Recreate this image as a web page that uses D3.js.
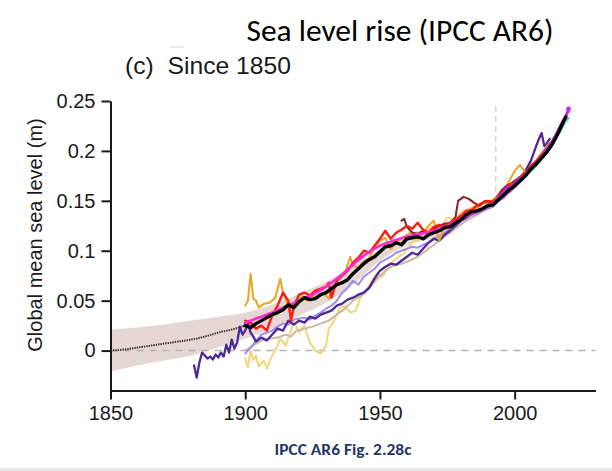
<!DOCTYPE html>
<html><head><meta charset="utf-8">
<script src="https://cdn.jsdelivr.net/npm/d3@7"></script>
<style>
html,body{margin:0;padding:0;background:#fff;}
svg{display:block;}
</style></head>
<body><svg id="chart" width="612" height="471"></svg>
<script>
// ---------- DATA ----------
const xTicks = [1850, 1900, 1950, 2000];
const yTicks = [0, 0.05, 0.1, 0.15, 0.2, 0.25];

const bandYears = [1850, 1860, 1870, 1880, 1890, 1900, 1910, 1920, 1930, 1940, 1950, 1960, 1970, 1980, 1990, 1993];
const bandLow   = [-0.021, -0.015, -0.010, -0.005, 0.003, 0.012, 0.022, 0.035, 0.048, 0.066, 0.090, 0.105, 0.113, 0.126, 0.141, 0.147];
const bandHigh  = [0.021, 0.023, 0.026, 0.030, 0.034, 0.038, 0.046, 0.057, 0.069, 0.084, 0.102, 0.117, 0.123, 0.134, 0.147, 0.151];

const reconYears = [1850, 1855, 1860, 1865, 1870, 1875, 1880, 1885, 1890, 1895, 1900];
const reconVals  = [0.000, 0.001, 0.003, 0.005, 0.007, 0.009, 0.011, 0.014, 0.018, 0.021, 0.025];

const paleYellow = [[1900,-0.008],[1901,-0.017],[1902,0.000],[1903,-0.010],[1904,-0.005],[1905,-0.016],[1907,-0.010],[1908,-0.018],[1910,-0.005],[1912,0.005],[1913,0.012],[1915,0.005],[1917,0.020],[1918,0.030],[1920,0.018],[1922,0.025],[1924,0.008],[1926,0.000],[1928,-0.003],[1930,0.005],[1931,0.022],[1933,0.030],[1935,0.042],[1937,0.045],[1939,0.038],[1941,0.040],[1943,0.055],[1945,0.060],[1947,0.070],[1949,0.078],[1951,0.074],[1953,0.084],[1955,0.090],[1957,0.094],[1959,0.098],[1961,0.105],[1963,0.110],[1965,0.112],[1967,0.118],[1969,0.124],[1971,0.120],[1973,0.125],[1975,0.133],[1977,0.132],[1979,0.136],[1981,0.140],[1983,0.142],[1985,0.145],[1987,0.146],[1989,0.148],[1991,0.150],[1994,0.156],[1997,0.162],[2000,0.170],[2003,0.176],[2006,0.184],[2009,0.192]];

const tan = [[1900,0.000],[1903,0.005],[1906,0.010],[1909,0.012],[1912,0.013],[1915,0.016],[1917,0.014],[1919,0.020],[1922,0.022],[1925,0.024],[1928,0.027],[1931,0.030],[1934,0.036],[1937,0.042],[1940,0.050],[1943,0.055],[1946,0.062],[1949,0.072],[1952,0.080],[1955,0.085],[1958,0.087],[1961,0.090],[1964,0.094],[1967,0.100],[1970,0.106],[1973,0.112],[1976,0.118],[1979,0.124],[1982,0.130],[1985,0.135],[1988,0.140],[1991,0.145],[1994,0.150],[1997,0.158],[2000,0.165]];

const lavender = [[1900,-0.003],[1902,0.003],[1904,0.010],[1906,0.016],[1908,0.018],[1910,0.020],[1912,0.024],[1914,0.027],[1916,0.026],[1918,0.031],[1920,0.032],[1922,0.033],[1924,0.031],[1926,0.035],[1928,0.038],[1930,0.042],[1932,0.045],[1934,0.050],[1936,0.058],[1938,0.063],[1940,0.070],[1942,0.066],[1944,0.074],[1946,0.078],[1948,0.082],[1950,0.088],[1952,0.091],[1954,0.094],[1956,0.098],[1958,0.100],[1960,0.102],[1962,0.104],[1964,0.103],[1966,0.106],[1968,0.108],[1970,0.112],[1972,0.115],[1974,0.118],[1976,0.122],[1978,0.126],[1980,0.130],[1982,0.134],[1984,0.136],[1986,0.137],[1988,0.140],[1990,0.142],[1992,0.144],[1994,0.150],[1996,0.153],[1998,0.160],[2000,0.165],[2003,0.172],[2006,0.180],[2009,0.190]];

const darkPurple = [[1881,-0.015],[1882,-0.027],[1883,-0.012],[1884,-0.002],[1885,-0.005],[1886,-0.008],[1887,-0.006],[1888,-0.009],[1889,-0.004],[1890,-0.007],[1891,-0.002],[1892,-0.006],[1893,0.006],[1894,-0.002],[1895,0.011],[1896,0.002],[1897,0.008],[1898,0.024],[1899,0.016],[1900,0.020],[1901,0.028],[1902,0.018],[1903,0.014],[1904,0.009],[1906,0.013],[1908,0.010],[1910,0.016],[1912,0.022],[1914,0.020],[1916,0.030],[1918,0.026],[1920,0.030],[1922,0.028],[1924,0.034],[1926,0.032],[1928,0.036],[1930,0.038],[1932,0.040],[1934,0.045],[1936,0.047],[1938,0.051],[1940,0.053],[1942,0.056],[1944,0.058],[1946,0.063],[1948,0.072],[1950,0.080],[1952,0.084],[1954,0.087],[1956,0.086],[1958,0.090],[1960,0.094],[1962,0.098],[1964,0.096],[1966,0.102],[1968,0.108],[1970,0.112],[1972,0.110],[1974,0.116],[1976,0.120],[1978,0.125],[1980,0.130],[1982,0.133],[1984,0.137],[1986,0.140],[1988,0.142],[1990,0.146],[1992,0.148],[1994,0.153],[1996,0.158],[1998,0.163],[2000,0.168],[2002,0.173],[2004,0.180],[2006,0.190],[2008,0.205],[2009,0.212],[2010,0.218],[2011,0.205],[2012,0.208],[2013,0.212]];

const orange = [[1900,0.045],[1901,0.050],[1902,0.077],[1903,0.052],[1904,0.050],[1905,0.043],[1907,0.047],[1909,0.048],[1911,0.052],[1913,0.072],[1914,0.058],[1916,0.045],[1917,0.033],[1919,0.048],[1921,0.054],[1923,0.050],[1925,0.055],[1927,0.053],[1929,0.058],[1931,0.052],[1933,0.066],[1935,0.072],[1937,0.078],[1939,0.094],[1940,0.085],[1942,0.083],[1944,0.090],[1946,0.092],[1948,0.104],[1950,0.110],[1952,0.113],[1954,0.102],[1956,0.108],[1958,0.112],[1960,0.116],[1962,0.119],[1964,0.112],[1966,0.118],[1968,0.125],[1970,0.130],[1972,0.110],[1974,0.125],[1976,0.122],[1978,0.130],[1980,0.133],[1982,0.140],[1984,0.138],[1986,0.143],[1988,0.147],[1990,0.148],[1992,0.145],[1994,0.155],[1996,0.160],[1998,0.170],[2000,0.180],[2002,0.186],[2004,0.178],[2006,0.185],[2008,0.190],[2010,0.198],[2012,0.205],[2013,0.208]];

const maroon = [[1958,0.130],[1959,0.132],[1960,0.124],[1962,0.118],[1964,0.117],[1966,0.120],[1968,0.118],[1970,0.122],[1972,0.125],[1974,0.127],[1976,0.128],[1978,0.133],[1979,0.150],[1981,0.154],[1983,0.152],[1985,0.148],[1987,0.145],[1989,0.150],[1991,0.148],[1993,0.152],[1995,0.160],[1997,0.165],[1999,0.168],[2001,0.172]];

const red = [[1900,0.030],[1902,0.028],[1904,0.022],[1906,0.025],[1908,0.020],[1910,0.035],[1912,0.045],[1914,0.058],[1916,0.050],[1917,0.030],[1918,0.045],[1920,0.056],[1922,0.058],[1924,0.055],[1926,0.060],[1928,0.062],[1930,0.064],[1931,0.068],[1932,0.053],[1934,0.070],[1936,0.075],[1938,0.080],[1940,0.088],[1942,0.093],[1944,0.100],[1946,0.098],[1948,0.105],[1950,0.112],[1952,0.120],[1954,0.112],[1956,0.118],[1958,0.121],[1960,0.125],[1962,0.122],[1964,0.128],[1966,0.121],[1968,0.118],[1970,0.124],[1972,0.126],[1974,0.124],[1976,0.128],[1978,0.131],[1980,0.135],[1982,0.140],[1984,0.141],[1986,0.145],[1988,0.148],[1990,0.150],[1992,0.149],[1994,0.155],[1996,0.160],[1998,0.166],[2000,0.168],[2002,0.174],[2004,0.178],[2006,0.185],[2008,0.190],[2010,0.196],[2012,0.203],[2014,0.210],[2016,0.219],[2018,0.230]];

const magenta = [[1900,0.028],[1905,0.033],[1910,0.038],[1915,0.044],[1920,0.050],[1925,0.056],[1930,0.064],[1935,0.074],[1940,0.086],[1945,0.097],[1950,0.105],[1955,0.110],[1960,0.114],[1965,0.117],[1970,0.120],[1975,0.125],[1980,0.132],[1985,0.138],[1990,0.144],[1995,0.153],[2000,0.164],[2005,0.178],[2010,0.194],[2015,0.214],[2018,0.230],[2020,0.240]];

const cyanAlt = [[1993,0.150],[1995,0.153],[1997,0.160],[1999,0.161],[2001,0.168],[2003,0.171],[2005,0.178],[2007,0.182],[2009,0.188],[2011,0.195],[2013,0.202],[2015,0.212],[2017,0.220],[2019,0.230],[2020,0.233]];
const limeAlt = [[1993,0.152],[1996,0.157],[1999,0.163],[2002,0.170],[2005,0.177],[2008,0.186],[2011,0.196],[2014,0.208],[2017,0.222],[2019,0.231]];
const violetAlt = [[1993,0.151],[1995,0.156],[1997,0.163],[1999,0.165],[2001,0.171],[2003,0.174],[2005,0.180],[2007,0.185],[2009,0.191],[2011,0.199],[2013,0.206],[2015,0.215],[2017,0.226],[2019,0.236],[2020,0.242]];

const black = [[1900,0.025],[1902,0.023],[1904,0.027],[1906,0.030],[1908,0.033],[1910,0.036],[1912,0.038],[1914,0.041],[1916,0.046],[1918,0.043],[1920,0.049],[1922,0.053],[1924,0.051],[1926,0.052],[1928,0.056],[1930,0.058],[1932,0.062],[1934,0.066],[1936,0.068],[1938,0.071],[1940,0.077],[1942,0.082],[1944,0.087],[1946,0.091],[1948,0.094],[1950,0.099],[1952,0.104],[1954,0.105],[1956,0.108],[1958,0.106],[1960,0.112],[1962,0.113],[1964,0.114],[1966,0.112],[1968,0.116],[1970,0.118],[1972,0.120],[1974,0.123],[1976,0.124],[1978,0.128],[1980,0.131],[1982,0.136],[1984,0.139],[1986,0.140],[1988,0.142],[1990,0.145],[1992,0.146],[1994,0.151],[1996,0.156],[1998,0.161],[2000,0.165],[2002,0.170],[2004,0.175],[2006,0.182],[2008,0.187],[2010,0.193],[2012,0.199],[2014,0.207],[2016,0.217],[2018,0.229],[2019,0.234]];

const altimetryStart = 1993;
const altimetryLineTop = 0.245;
const altimetryLineBottom = 0.158;

// ---------- CHART ----------
const svg = d3.select("#chart");
const x = d3.scaleLinear().domain([1850, 2030]).range([110.5, 595.5]);
const y = d3.scaleLinear().domain([-0.04, 0.25]).range([390.5, 101]);

svg.append("rect").attr("x",0).attr("y",468).attr("width",612).attr("height",3).attr("fill","#e6e6e6");

// title & labels
svg.append("text").attr("x",400).attr("y",41).attr("text-anchor","middle")
  .attr("font-family","Carlito, Lato, 'Open Sans', sans-serif").attr("font-size",30).attr("fill","#000")
  .attr("textLength",307).attr("lengthAdjust","spacingAndGlyphs")
  .text("Sea level rise (IPCC AR6)");
svg.append("line").attr("x1",170).attr("x2",184).attr("y1",47).attr("y2",47).attr("stroke","#d8d8d8").attr("stroke-width",1);
svg.append("text").attr("x",125).attr("y",74).attr("font-family","'Liberation Sans', Arial, sans-serif")
  .attr("font-size",24).attr("fill","#1a1a1a").attr("textLength",166).attr("lengthAdjust","spacingAndGlyphs")
  .attr("xml:space","preserve").text("(c)  Since 1850");
svg.append("text").attr("transform","translate(42,235) rotate(-90)").attr("text-anchor","middle")
  .attr("font-family","'Liberation Sans', Arial, sans-serif").attr("font-size",20).attr("fill","#1a1a1a")
  .text("Global mean sea level (m)");
svg.append("text").attr("x",343).attr("y",455).attr("text-anchor","middle")
  .attr("font-family","Carlito, Lato, 'Open Sans', sans-serif").attr("font-weight","bold").attr("font-size",16.5)
  .attr("fill","#1f3864").attr("textLength",137).attr("lengthAdjust","spacingAndGlyphs").text("IPCC AR6 Fig. 2.28c");

// band
const bandData = bandYears.map((yr,i)=>({yr, lo: bandLow[i], hi: bandHigh[i]}));
svg.append("path").datum(bandData)
  .attr("d", d3.area().x(d=>x(d.yr)).y0(d=>y(d.lo)).y1(d=>y(d.hi)).curve(d3.curveMonotoneX))
  .attr("fill","#e5d7d3");

// zero dashed line
svg.append("line").attr("x1",x(1850)).attr("x2",x(2030)).attr("y1",y(0)).attr("y2",y(0))
  .attr("stroke","#b3b3b3").attr("stroke-width",1.4).attr("stroke-dasharray","7,6");
// altimetry start line
svg.append("line").attr("x1",x(altimetryStart)).attr("x2",x(altimetryStart))
  .attr("y1",y(altimetryLineTop)).attr("y2",y(altimetryLineBottom))
  .attr("stroke","#c4c4c4").attr("stroke-width",1).attr("stroke-dasharray","6,4");

// reconstruction dotted line
const reconData = reconYears.map((yr,i)=>[yr, reconVals[i]]);
const lineLin = d3.line().x(d=>x(d[0])).y(d=>y(d[1]));
const lineSmooth = d3.line().x(d=>x(d[0])).y(d=>y(d[1])).curve(d3.curveMonotoneX);
svg.append("path").datum(reconData).attr("d",lineSmooth).attr("fill","none")
  .attr("stroke","#3b3327").attr("stroke-width",2).attr("stroke-dasharray","1.4,1");

const layers = [
  {data: paleYellow, color:"#f0d77a", w:2, smooth:false},
  {data: tan, color:"#ccb7a3", w:2, smooth:false},
  {data: lavender, color:"#a08af0", w:2, smooth:false},
  {data: darkPurple, color:"#4e2996", w:2.3, smooth:false},
  {data: orange, color:"#e9a524", w:2, smooth:false},
  {data: maroon, color:"#8c1f2c", w:2, smooth:false},
  {data: red, color:"#ff1a12", w:2.4, smooth:false},
  {data: magenta, color:"#ff2ad4", w:2.8, smooth:true},
  {data: cyanAlt, color:"#4cc6f0", w:2, smooth:false},
  {data: limeAlt, color:"#8fd42a", w:1.8, smooth:false},
  {data: violetAlt, color:"#a52af0", w:2, smooth:false},
  {data: black, color:"#000000", w:3.4, smooth:false}
];
layers.forEach(L=>{
  svg.append("path").datum(L.data).attr("d", L.smooth ? lineSmooth : lineLin)
    .attr("fill","none").attr("stroke",L.color).attr("stroke-width",L.w)
    .attr("stroke-linejoin","round").attr("stroke-linecap","round");
});
// end dot
svg.append("circle").attr("cx",x(violetAlt[violetAlt.length-1][0])).attr("cy",y(violetAlt[violetAlt.length-1][1]))
  .attr("r",2.4).attr("fill","#c02af0");

// axes
const fmt = d => d===0 ? "0" : String(+d.toFixed(2));
const gy = svg.append("g").attr("transform","translate(110.5,0)")
  .call(d3.axisLeft(y).tickValues(yTicks).tickFormat(fmt).tickSize(9).tickPadding(6).tickSizeOuter(0));
const gx = svg.append("g").attr("transform","translate(0,390.5)")
  .call(d3.axisBottom(x).tickValues(xTicks).tickFormat(d3.format("d")).tickSize(9).tickPadding(6).tickSizeOuter(0));
[gx, gy].forEach(g=>{
  g.selectAll("path.domain").attr("stroke","#1a1a1a").attr("stroke-width",2);
  g.selectAll(".tick line").attr("stroke","#1a1a1a").attr("stroke-width",2);
  g.selectAll(".tick text").attr("font-family","'Liberation Sans', Arial, sans-serif").attr("font-size",20).attr("fill","#1a1a1a");
});
</script>
</body></html>
